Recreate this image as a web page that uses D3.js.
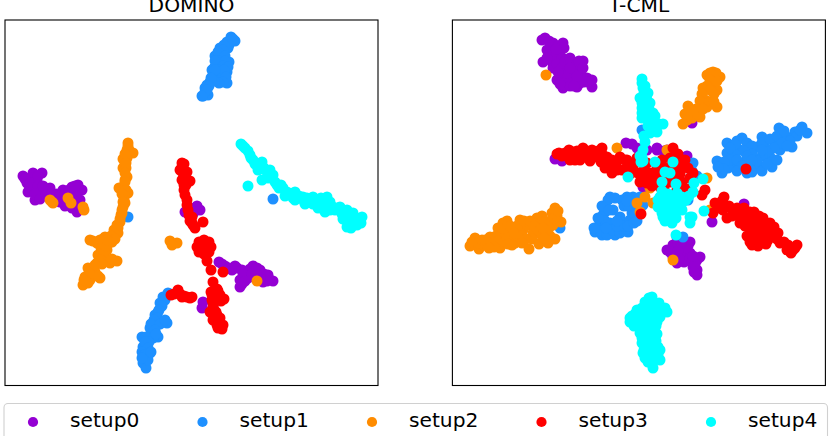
<!DOCTYPE html>
<html><head><meta charset="utf-8">
<script src="https://cdn.jsdelivr.net/npm/d3@7/dist/d3.min.js"></script>
<style>html,body{margin:0;padding:0;background:#fff;overflow:hidden}svg{display:block}</style>
</head><body><svg id="c" width="830" height="436"></svg>
<script>
const seriesNames=["setup0","setup1","setup2","setup3","setup4"];
const seriesColors=["#9400d3","#1e90ff","#ff8c00","#ff0000","#00ffff"];
const panelTitles=["DOMINO","T-CML"];

const domino0=[[18,210],[28,213],[37,213],[22,203],[32,206],[23,194],[30,186],[42,196],[35,193],[48,189],[58,196],[67,199],[73,201],[77,196],[62,189],[72,183],[67,178],[72,174],[55,184],[45,198],[25,208],[28,196],[65,191],[192,180],[180,174],[185,178],[214,124],[220,120],[232,118],[227,116],[248,120],[255,116],[242,114],[235,106],[235,99],[243,108],[263,111],[268,105],[258,104],[253,111],[198,84],[197,78],[208,79],
[20,207],[25,203],[33,210],[27,200],[25,198],[33,200],[30,192],[38,200],[35,187],[41,191],[47,193],[52,192],[55,190],[60,192],[64,196],[70,195],[72,190],[68,186],[62,184],[60,180],[70,200],[75,186],[75,178],[65,185],[217,122],[224,118],[230,120],[237,116],[245,117],[250,114],[238,112],[240,105],[247,112],[252,118],[259,112],[264,107],[262,105],[255,108],[237,102],[195,176],[188,172],[184,171]];
const domino1=[[226,349],[230,345],[222,344],[215,338],[223,338],[210,330],[217,329],[224,324],[212,321],[222,314],[208,311],[205,304],[222,303],[212,306],[200,298],[198,290],[203,291],[219,334],[207,316],[215,308],[202,301],[209,318],[163,93],[158,89],[155,83],[150,71],[153,74],[145,58],[162,63],[158,64],[153,49],[137,49],[143,49],[138,39],[145,33],[142,33],[138,23],[141,18],[140,28],[148,63],[147,54],[123,169],[268,187],
[228,347],[224,341],[219,341],[218,336],[213,334],[220,330],[214,325],[220,325],[210,325],[218,320],[223,319],[214,316],[219,316],[210,316],[221,309],[218,304],[214,303],[209,305],[206,308],[204,300],[200,294],[202,296],[197,290],[165,92],[160,86],[157,80],[154,76],[152,68],[149,66],[146,62],[155,62],[160,66],[150,56],[141,49],[148,48],[144,44],[140,44],[143,38],[137,34],[139,31],[143,26],[137,28],[146,34],[151,52]];
const domino2=[[47,184],[63,188],[66,183],[78,179],[79,176],[45,186],[48,183],[123,243],[122,236],[128,233],[118,227],[122,228],[121,218],[118,218],[122,209],[118,199],[114,198],[123,193],[119,189],[118,179],[116,171],[120,183],[117,173],[112,161],[113,153],[107,144],[100,149],[85,146],[92,143],[102,136],[93,131],[112,125],[105,123],[100,128],[92,123],[83,118],[90,114],[95,108],[80,109],[78,101],[85,106],[83,103],[120,206],[119,186],[115,164],[109,156],[105,148],[165,145],[172,143],[167,141],[252,105],
[123,240],[124,236],[120,232],[120,222],[121,223],[120,213],[120,204],[119,194],[121,196],[117,192],[118,184],[117,176],[115,167],[113,158],[110,152],[104,143],[98,147],[95,146],[88,145],[96,138],[99,133],[96,126],[97,122],[88,116],[88,110],[83,110],[81,105],[93,110],[107,127],[101,140],[106,150],[110,147],[90,121],[84,113],[79,106],[102,146]];
const domino3=[[177,223],[175,216],[182,214],[185,205],[177,206],[179,196],[182,186],[183,176],[187,169],[190,158],[188,161],[198,164],[199,146],[199,132],[192,139],[206,139],[194,144],[204,144],[194,134],[204,134],[199,139],[202,125],[206,116],[218,114],[208,104],[212,97],[206,94],[219,87],[215,91],[207,86],[208,79],[205,74],[212,71],[208,66],[218,61],[217,57],[212,61],[215,68],[166,91],[173,96],[177,89],[182,89],[187,89],
[177,219],[179,222],[178,213],[180,209],[179,201],[181,201],[180,191],[182,181],[184,171],[185,165],[187,163],[208,93],[210,90],[208,83],[209,76],[211,74],[210,66],[214,63],[213,58],[207,73],[216,85],[213,95],[169,92],[175,92],[179,90],[185,88],[207,91]];
const domino4=[[236,242],[240,238],[245,231],[248,226],[257,224],[253,216],[259,218],[268,211],[257,206],[243,200],[272,201],[282,194],[290,194],[290,186],[298,189],[308,189],[322,189],[315,184],[320,174],[328,179],[342,176],[348,173],[355,166],[342,159],[352,161],[343,166],[333,178],[357,169],[265,216],[278,198],[302,188],[335,179],
[238,240],[243,235],[246,228],[250,222],[254,222],[256,219],[262,214],[263,208],[270,204],[274,198],[276,201],[280,190],[285,192],[288,188],[294,190],[304,187],[311,186],[316,188],[318,184],[325,184],[320,180],[330,176],[338,176],[345,170],[350,168],[348,162],[346,158],[354,163],[340,170],[325,176],[312,183],[299,185],[305,184],[337,172],[350,163],[356,163],[338,167],[300,182],[308,182],[313,178]];

const tcml0=[[93,348],[90,346],[111,343],[101,343],[95,336],[108,334],[91,324],[100,324],[121,324],[131,325],[115,319],[128,316],[105,306],[111,298],[125,299],[140,299],[135,308],[121,306],[110,311],[101,318],[174,243],[235,230],[185,238],[205,236],[215,236],[195,236],[103,227],[110,225],[191,199],[292,182],[240,263],[260,164],[215,136],[221,141],[238,144],[230,138],[248,129],[225,123],[235,128],[241,119],[245,111],[221,129],[238,133],[245,126],[245,116],[225,149],
[97,345],[106,340],[112,338],[99,330],[104,330],[110,328],[95,328],[105,322],[113,325],[118,328],[125,322],[110,318],[120,314],[130,310],[138,303],[132,304],[115,305],[118,300],[108,302],[128,303],[122,300],[114,313],[106,314],[125,310],[104,337],[118,318],[127,325],[131,318],[140,306],[205,238],[212,235],[225,232],[180,242],[190,236],[221,231],[218,134],[226,142],[232,144],[236,140],[228,132],[232,124],[240,124],[243,122],[227,128],[234,138],[241,130],[242,114],[229,143],[226,135]];
const tcml1=[[275,243],[290,248],[310,249],[327,258],[350,259],[355,253],[343,254],[335,249],[321,246],[340,239],[328,236],[318,229],[305,239],[288,236],[275,233],[265,225],[270,213],[281,221],[295,226],[308,218],[320,219],[301,219],[276,218],[313,239],[158,189],[170,186],[181,189],[153,174],[168,169],[180,173],[188,189],[190,256],[241,223],[231,199],[235,189],[151,171],[143,154],[150,151],[158,163],[163,151],[176,154],[170,164],[178,166],[148,163],[183,171],[161,176],[231,149],[108,158],[191,181],[238,208],
[280,240],[285,245],[295,243],[300,240],[310,243],[318,247],[325,250],[332,255],[345,250],[348,256],[338,245],[330,243],[322,238],[315,234],[310,230],[300,232],[292,235],[283,232],[278,226],[285,226],[290,220],[272,224],[272,217],[266,219],[285,215],[295,213],[300,214],[310,215],[305,225],[315,222],[325,226],[335,240],[310,236],[295,230],[283,242],[278,238],[292,220],[300,226],[156,186],[163,188],[175,189],[150,180],[157,176],[172,180],[176,180],[175,185],[185,180],[146,158],[148,155],[155,151],[160,156],[168,153],[172,155],[172,160],[165,160],[153,165],[154,158],[142,158],[146,168],[176,160],[182,163],[165,165],[185,165],[245,210],[238,195],[228,192],[236,186],[240,215],[225,195]];
const tcml2=[[261,314],[268,309],[255,311],[261,303],[251,298],[265,296],[253,286],[265,279],[236,280],[241,273],[248,269],[235,266],[231,262],[258,284],[94,311],[165,238],[215,236],[228,226],[255,208],[198,198],[193,189],[185,183],[188,174],[201,183],[225,213],[258,176],[221,126],[18,140],[23,148],[27,137],[38,149],[48,138],[51,163],[48,149],[63,143],[68,166],[77,137],[85,168],[103,178],[100,173],[109,164],[103,147],[96,143],[87,142],[95,156],[81,153],[71,156],[58,153],[38,143],[31,141],[88,163],[51,153],[101,161],[75,161],[66,151],[46,158],
[264,313],[258,313],[265,305],[258,306],[255,300],[262,292],[258,296],[250,292],[248,285],[255,279],[262,284],[244,277],[240,268],[233,272],[245,272],[251,277],[239,276],[20,144],[26,143],[30,146],[35,141],[33,146],[42,144],[44,150],[46,145],[42,139],[53,144],[50,158],[55,165],[58,160],[60,148],[55,148],[65,160],[72,165],[62,153],[70,150],[78,165],[82,160],[90,170],[93,165],[97,158],[87,155],[80,147],[74,147],[70,143],[60,141],[90,150],[98,150],[102,168],[105,170],[91,158],[56,142],[92,148],[37,138],[106,175]];
const tcml3=[[107,233],[105,232],[113,233],[121,234],[131,238],[140,236],[150,238],[123,226],[131,229],[145,229],[155,229],[168,229],[175,226],[153,218],[160,213],[170,216],[181,219],[188,211],[188,204],[198,213],[208,219],[221,238],[218,228],[231,219],[233,226],[241,213],[218,204],[201,206],[230,204],[253,196],[250,191],[173,226],[195,223],[221,216],[210,226],[215,213],[189,172],[294,217],[272,189],[263,183],[271,176],[281,176],[298,174],[311,168],[275,168],[261,173],[301,171],[295,166],[311,166],[321,154],[326,153],[298,144],[308,144],[316,146],[328,143],[336,141],[345,141],[339,133],[305,156],[315,159],[285,171],[288,163],[335,136],[301,151],[318,153],[341,136],
[110,230],[117,236],[116,230],[125,235],[128,232],[135,235],[136,230],[127,228],[118,226],[128,226],[142,232],[146,235],[138,225],[150,232],[160,226],[164,222],[158,218],[165,216],[175,218],[178,212],[183,214],[192,216],[192,207],[195,203],[200,200],[205,205],[210,212],[214,218],[222,210],[225,222],[226,232],[228,212],[236,218],[238,208],[212,198],[225,196],[235,197],[222,204],[205,219],[190,224],[178,222],[185,228],[198,205],[208,199],[155,224],[149,224],[204,213],[194,211],[270,185],[267,178],[277,180],[285,178],[292,178],[293,172],[302,174],[306,166],[300,162],[308,160],[298,158],[310,152],[304,148],[295,150],[312,150],[320,150],[325,147],[332,144],[338,138],[343,138],[322,159],[280,170],[291,168],[318,163],[314,142],[306,140],[300,141],[316,158],[307,170],[293,160],[297,165]];
const tcml4=[[190,307],[191,298],[196,293],[188,288],[198,283],[190,278],[201,273],[190,268],[203,264],[211,262],[205,254],[198,253],[193,244],[191,236],[190,229],[189,224],[196,271],[195,286],[203,224],[221,224],[213,214],[218,213],[210,204],[224,202],[176,209],[242,203],[241,194],[251,207],[208,189],[221,189],[230,189],[206,179],[218,179],[226,183],[211,169],[218,169],[230,176],[221,173],[238,169],[252,175],[240,169],[238,163],[224,151],[210,173],[200,89],[193,84],[203,83],[213,78],[215,74],[185,76],[178,64],[188,68],[200,69],[208,69],[188,53],[201,56],[193,46],[206,39],[196,38],[193,28],[208,26],[201,18],[201,29],[195,59],[208,36],
[190,303],[193,300],[192,293],[190,283],[194,282],[197,277],[194,270],[196,266],[200,262],[190,273],[199,268],[203,270],[207,262],[200,258],[196,260],[192,250],[188,230],[191,225],[205,260],[194,288],[210,195],[216,192],[225,193],[213,185],[220,184],[210,180],[214,175],[225,177],[206,186],[224,168],[215,168],[213,165],[220,163],[230,183],[234,186],[237,190],[197,88],[199,80],[207,83],[195,80],[190,78],[183,72],[180,70],[178,68],[183,66],[192,75],[205,76],[210,74],[200,75],[192,68],[182,60],[186,60],[193,63],[200,62],[205,64],[204,60],[196,52],[190,48],[205,52],[199,47],[202,42],[204,45],[197,42],[192,36],[191,33],[199,33],[205,33],[196,24],[206,31],[200,22],[210,78],[191,57],[190,43]];

const panels=[
  {title:panelTitles[0],series:[domino0,domino1,domino2,domino3,domino4],left:5,lineLeft:5},
  {title:panelTitles[1],series:[tcml0,tcml1,tcml2,tcml3,tcml4],left:452,lineLeft:452.4}
];
const svg=d3.select("#c");
const font='"DejaVu Sans", sans-serif';
const R=5.5, legendR=5.1, frameTop=20, frameBottom=385.5, W=373;
panels.forEach(p=>{
  const x=d3.scaleLinear().domain([0,373]).range([p.left,p.left+W]);
  const y=d3.scaleLinear().domain([0,366]).range([386,frameTop]);
  const g=svg.append("g");
  p.series.forEach((pts,i)=>{
    g.append("g").attr("fill",seriesColors[i]).selectAll("circle").data(pts).join("circle")
      .attr("cx",d=>x(d[0])).attr("cy",d=>y(d[1])).attr("r",R);
  });
  g.append("rect").attr("x",p.lineLeft).attr("y",frameTop).attr("width",W).attr("height",frameBottom-frameTop)
    .attr("fill","none").attr("stroke","#000").attr("stroke-width",1.1);
  svg.append("text").attr("x",p.lineLeft+W/2).attr("y",12).attr("text-anchor","middle")
    .attr("font-family",font).attr("font-size",20.2).attr("fill","#000").text(p.title);
});
// legend
svg.append("rect").attr("x",4).attr("y",403.5).attr("width",823.5).attr("height",40).attr("rx",4)
  .attr("fill","#fff").attr("stroke","#d0d0d0").attr("stroke-width",1.1);
const lx=d3.scalePoint().domain(seriesNames).range([33,711]);
const lg=svg.append("g").selectAll("g").data(seriesNames).join("g");
lg.append("circle").attr("cx",d=>lx(d)).attr("cy",422).attr("r",legendR).attr("fill",(d,i)=>seriesColors[i]);
lg.append("text").attr("x",d=>lx(d)+37).attr("y",427).attr("font-family",font).attr("font-size",20.2).attr("fill","#000").text(d=>d);
</script></body></html>
